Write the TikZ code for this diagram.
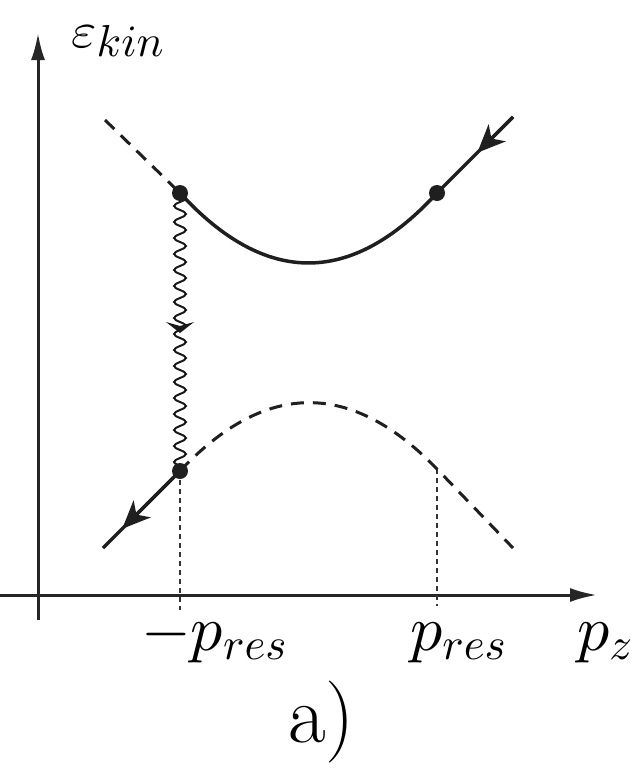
\documentclass[tikz,border=0pt]{standalone}
\usetikzlibrary{arrows.meta,decorations.pathmorphing,calc}
\DeclareFontShape{OML}{cmm}{m}{it}{<->cmmi10}{\skewchar\font'177}
\DeclareFontShape{OMS}{cmsy}{m}{n}{<->cmsy10}{\skewchar\font'60}
\DeclareFontShape{OT1}{cmr}{m}{n}{<->cmr10}{}
\begin{document}
\begin{tikzpicture}[x=1pt,y=-1pt,
  axis/.style={line width=3pt, draw=black!85, -{Latex[length=27pt,width=14pt]}},
  band/.style={line width=3.5pt, draw=black!88},
  dashband/.style={line width=3pt, draw=black!88, dash pattern=on 13pt off 9pt},
  guide/.style={line width=1.2pt, draw=black!80, dash pattern=on 5pt off 4pt},
  photon/.style={line width=2pt, draw=black!90, decorate, decoration={snake, amplitude=6pt, segment length=16pt}},
  flow/.style={line width=3.5pt, draw=black!88, -{Stealth[length=28pt,width=24pt,inset=8pt]}},
  dot/.style={circle, fill=black!88, minimum size=16pt, inner sep=0},
  lab/.style={inner sep=0, anchor=base west, font=\fontsize{64}{70}\selectfont}]
\useasboundingbox (0,0) rectangle (635,769);
% axes
\coordinate (o) at (38,595);
\coordinate (xs) at (0,595);
\coordinate (xe) at (597,595);
\coordinate (ys) at (38,620);
\coordinate (ye) at (38,33);
\draw[axis] (xs) -- (xe);
\draw[axis] (ys) -- (ye);
% key points
\coordinate (A) at (180,193);
\coordinate (B) at (437,193);
\coordinate (C) at (180,471);
\coordinate (D) at (437,469);
\coordinate (Aend) at (105,120);
\coordinate (Bend) at (513,117);
\coordinate (Cend) at (103,548);
\coordinate (Dend) at (513,548);
\coordinate (Cfoot) at (180,610);
\coordinate (Dfoot) at (437,606);
% guides
\draw[guide] (C) -- (Cfoot);
\draw[guide] (D) -- (Dfoot);
% upper band
\draw[dashband] (Aend) -- (A);
\draw[band] (A) .. controls (265.7,286.3) and (351.3,286.3) .. (B) -- (Bend);
\draw[flow] (Bend) -- ($(Bend)!0.47!(B)$);
% lower band
\draw[dashband] (C) .. controls (265.7,380.2) and (351.3,380.2) .. (D) -- (Dend);
\draw[band] (C) -- (Cend);
\draw[flow] (C) -- ($(C)!0.75!(Cend)$);
% photon
\draw[photon] (A) -- (C);
\coordinate (ph) at (180,333);
\fill[black!90] ($(ph)+(-14,-11)$) -- (ph) -- ($(ph)+(14,-11)$) -- ($(ph)+(0,-7)$) -- cycle;
% dots
\node[dot] (dA) at (A) {};
\node[dot] (dB) at (B) {};
\node[dot] (dC) at (C) {};
% labels
\node[lab] (ekin) at (71,47) {$\scalebox{0.85}[0.78]{$\varepsilon$}_{kin}$};
\node[lab] (mpres) at (141,650) {$-p_{res}$};
\node[lab] (pres) at (410,650) {$p_{res}$};
\node[lab] (pz) at (577,650) {$p_{z}$};
\node[inner sep=0, anchor=base west, font=\fontsize{82}{86}\selectfont] (cap) at (288,742) {a)};
\end{tikzpicture}
\end{document}
